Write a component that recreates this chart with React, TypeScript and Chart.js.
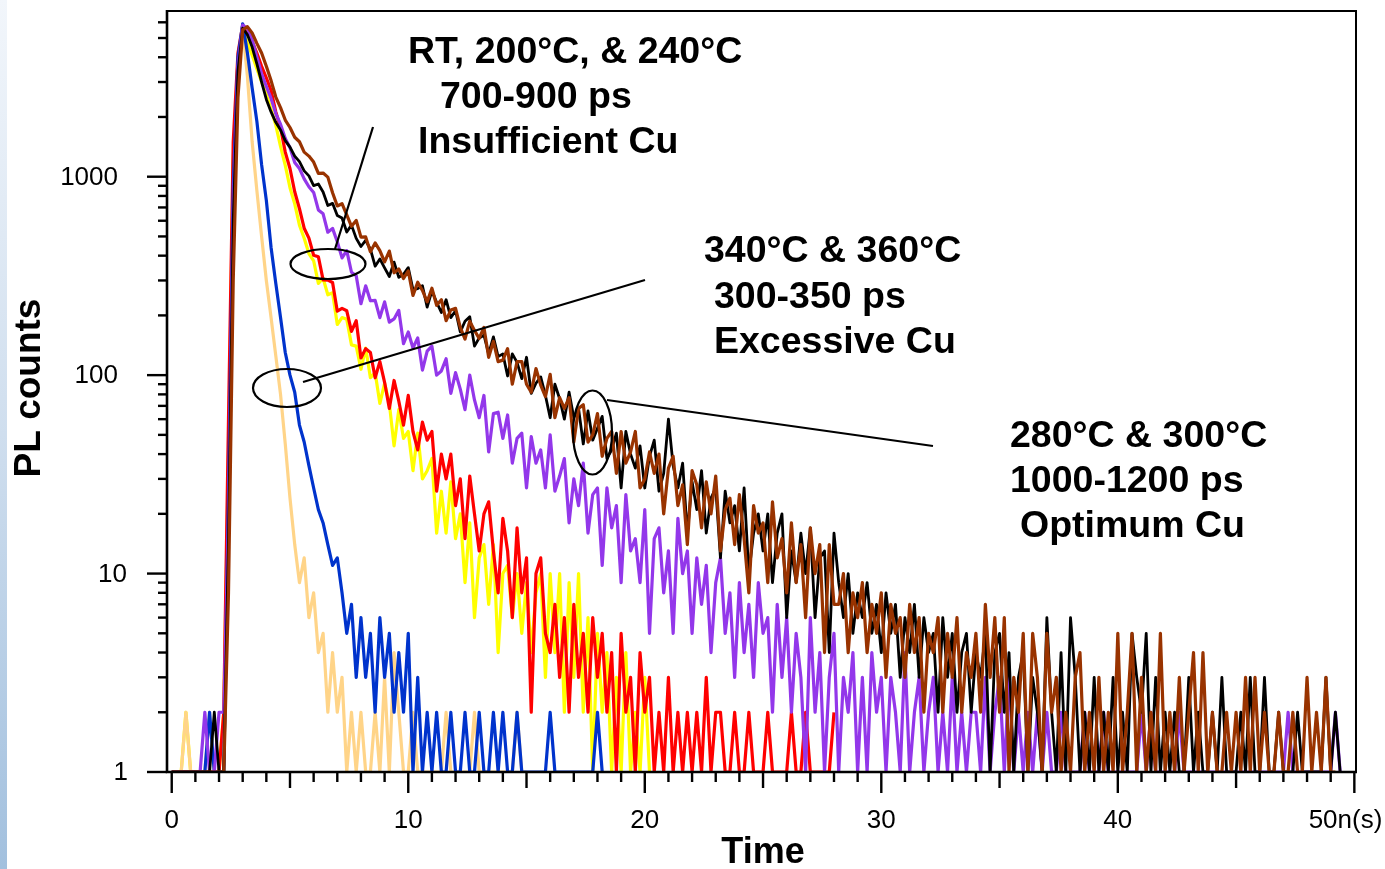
import React, { useEffect, useRef } from "react";
import { Chart, registerables } from "chart.js";

Chart.register(...registerables);

// time bins (ns) of the photoluminescence decay histograms
const TIME_STEP_NS = 0.2;
const X_MIN = -0.2;
const X_MAX = 50.07;
const Y_MIN = 1;
const Y_MAX = 6840;

// 280°C sample (black)
const blackCounts = [
  1, 1, 1, 1, 1, 1, 1, 1, 1, 2,
  1, 1, 15, 600, 3400, 5600, 5200, 4500, 3700, 3000,
  2450, 2120, 1880, 1720, 1520, 1410, 1270, 1190, 1070, 1010,
  902, 919, 837, 716, 734, 637, 619, 526, 570, 489,
  445, 478, 431, 354, 385, 347, 314, 371, 311, 322,
  348, 270, 273, 282, 220, 266, 233, 207, 240, 195,
  211, 165, 187, 197, 140, 154, 159, 128, 156, 124,
  128, 99, 128, 116, 96, 123, 81, 91, 98, 79,
  61, 90, 76, 60, 82, 61, 68, 45, 66, 47,
  54, 62, 38, 42, 51, 27, 52, 40, 34, 44,
  27, 39, 47, 26, 32, 60, 35, 27, 36, 16,
  29, 21, 33, 16, 24, 27, 12, 26, 18, 22,
  13, 27, 10, 16, 20, 13, 20, 9, 16, 20,
  6, 13, 9, 16, 10, 17, 6, 12, 13, 4,
  16, 9, 6, 10, 5, 8, 6, 9, 5, 7,
  4, 8, 5, 7, 3, 6, 4, 7, 3, 6,
  4, 5, 2, 6, 3, 5, 2, 4, 5, 2,
  4, 3, 5, 1, 4, 5, 2, 4, 1, 3,
  4, 1, 3, 2, 1, 6, 2, 1, 4, 1,
  6, 3, 1, 2, 1, 3, 1, 2, 1, 3,
  1, 2, 1, 5, 3, 2, 5, 1, 3, 1,
  2, 1, 2, 1, 1, 3, 1, 2, 1, 1,
  2, 1, 3, 1, 1, 1, 2, 1, 3, 1,
  1, 3, 1, 1, 2, 1, 1, 1, 2, 1,
  1, 1, 1, 1, 3, 1, 2, 1,
];

// 300°C sample (brown)
const brownCounts = [
  1, 1, 1, 1, 1, 1, 1, 1, 1, 1,
  1, 1, 8, 300, 2500, 5500, 5700, 5300, 4700, 4200,
  3600, 3050, 2520, 2230, 1930, 1770, 1580, 1500, 1330, 1270,
  1185, 1040, 1043, 995, 830, 712, 731, 643, 562, 602,
  496, 497, 418, 464, 424, 372, 422, 328, 343, 307,
  335, 252, 294, 267, 234, 274, 225, 240, 188, 213,
  217, 174, 152, 187, 168, 153, 174, 123, 148, 117,
  119, 136, 90, 117, 117, 90, 82, 108, 89, 78,
  101, 61, 77, 68, 77, 46, 68, 71, 46, 50,
  64, 39, 48, 52, 32, 52, 36, 41, 52, 27,
  30, 41, 32, 40, 20, 34, 39, 22, 28, 14,
  33, 28, 17, 29, 20, 31, 13, 21, 24, 14,
  25, 15, 8, 22, 16, 18, 9, 23, 12, 15,
  8, 18, 9, 14, 6, 17, 10, 14, 4, 14,
  7, 7, 10, 4, 8, 6, 9, 4, 7, 5,
  8, 3, 7, 5, 6, 3, 7, 4, 6, 2,
  5, 4, 6, 2, 5, 3, 6, 2, 4, 3,
  5, 2, 7, 3, 6, 2, 6, 1, 3, 2,
  5, 1, 5, 3, 1, 5, 2, 3, 1, 2,
  1, 3, 4, 1, 2, 1, 3, 1, 2, 1,
  5, 1, 2, 5, 1, 3, 1, 2, 1, 5,
  1, 2, 1, 3, 1, 2, 4, 1, 4, 1,
  2, 1, 1, 2, 1, 2, 1, 3, 1, 3,
  1, 2, 1, 1, 2, 1, 1, 2, 1, 1,
  3, 1, 2, 1, 3, 1, 1,
];

// 340°C sample (purple)
const purpleCounts = [
  1, 1, 1, 1, 1, 1, 1, 2, 1, 1,
  2, 2, 20, 700, 3600, 5800, 5600, 4900, 4000, 3300,
  2850, 2480, 2080, 1840, 1560, 1400, 1180, 1100, 975, 890,
  833, 680, 650, 525, 549, 470, 390, 424, 330, 317,
  229, 282, 237, 238, 195, 234, 185, 192, 212, 144,
  165, 137, 154, 106, 132, 140, 100, 105, 121, 81,
  103, 85, 67, 100, 75, 61, 79, 41, 64, 65,
  48, 63, 36, 48, 51, 27, 49, 36, 42, 27,
  50, 26, 31, 38, 18, 30, 22, 36, 16, 25,
  27, 11, 27, 17, 22, 9, 25, 13, 15, 9,
  21, 5, 15, 17, 8, 13, 5, 19, 10, 13,
  5, 12, 7, 11, 4, 9, 12, 5, 8, 3,
  9, 4, 7, 3, 9, 5, 6, 2, 7, 3,
  6, 2, 5, 3, 1, 6, 2, 4, 1, 3,
  5, 1, 3, 2, 4, 1, 3, 1, 4, 2,
  3, 1, 3, 2, 1, 4, 1, 2, 3, 1,
  2, 3, 1, 2, 1, 3, 1, 2, 1, 2,
  2, 1, 3, 1, 2, 3, 1, 3, 1, 2,
  1, 2, 1, 2, 1, 2, 1, 1, 2, 1,
  1, 1, 1, 2, 1, 1, 1, 2, 1, 1,
  1, 1, 1, 1, 1, 2, 1, 2, 1, 1,
  1, 1, 1, 2, 1, 1, 1, 1, 1, 1,
  1, 1, 1, 1, 1, 1, 1, 1, 1, 1,
  1, 1, 1, 1, 1, 1, 2, 1, 1, 1,
  1, 1, 1, 1, 1, 1, 2, 1,
];

// 360°C sample (blue)
const blueCounts = [
  1, 1, 1, 1, 1, 1, 1, 1, 2, 1,
  1, 1, 25, 900, 4000, 5900, 4200, 2800, 1900, 1150,
  760, 440, 290, 195, 130, 100, 82, 56, 46, 35,
  27, 21, 18, 14, 11, 12, 8, 5, 7, 3,
  6, 3, 5, 2, 6, 3, 5, 2, 4, 2,
  5, 1, 3, 1, 2, 1, 2, 1, 1, 2,
  1, 1, 2, 1, 1, 2, 1, 1, 2, 1,
  2, 1, 1, 2, 1, 1, 1, 1, 1, 1,
  2, 1, 1, 1, 1, 1, 1, 1, 1, 1,
  2, 1,
];

// RT sample (light orange)
const orangeCounts = [
  1, 1, 1, 2, 1, 1, 1, 1, 2, 1,
  1, 1, 15, 500, 3000, 5600, 3200, 1500, 850, 500,
  300, 195, 125, 80, 45, 24, 14, 9, 12, 6,
  8, 4, 5, 2, 4, 2, 3, 1, 2, 1,
  2, 1, 1, 2, 1, 3, 1, 4, 2, 1,
  1, 2, 1, 1, 1, 1, 1, 1, 2, 1,
  1, 1, 1, 1, 2, 1, 1, 1, 1, 1,
  1, 1, 1, 2, 1, 1,
];

// 200°C sample (red)
const redCounts = [
  1, 1, 1, 1, 1, 1, 1, 1, 1, 1,
  1, 2, 60, 1500, 4200, 5800, 5200, 4800, 4200, 3600,
  3150, 2720, 2120, 1770, 1330, 1100, 840, 690, 550, 490,
  402, 395, 302, 301, 293, 210, 217, 211, 166, 188,
  122, 136, 130, 97, 117, 92, 68, 94, 74, 56,
  79, 52, 42, 58, 47, 52, 26, 40, 30, 40,
  22, 30, 15, 31, 20, 13, 20, 23, 13, 8,
  19, 13, 6, 17, 8, 12, 2, 10, 12, 5,
  4, 7, 3, 6, 2, 7, 3, 5, 2, 6,
  3, 5, 2, 4, 1, 5, 2, 3, 1, 4,
  2, 3, 1, 2, 1, 3, 1, 2, 1, 2,
  1, 2, 1, 3, 1, 2, 2, 1, 1, 2,
  1, 1, 2, 1, 1, 1, 2, 1, 1, 1,
  1, 2, 1, 1, 2, 1, 1, 1, 1, 1,
  2,
];

// 240°C sample (yellow)
const yellowCounts = [
  1, 1, 1, 2, 1, 1, 1, 1, 1, 1,
  1, 2, 40, 1200, 3800, 5600, 4700, 4100, 3500, 3000,
  2600, 2180, 1820, 1420, 1140, 880, 730, 570, 490, 410,
  377, 290, 308, 254, 260, 180, 195, 191, 142, 140,
  107, 137, 97, 103, 72, 91, 72, 44, 67, 48,
  52, 33, 51, 30, 33, 38, 16, 26, 16, 29,
  15, 20, 9, 18, 6, 12, 14, 7, 14, 4,
  10, 11, 6, 10, 5, 9, 4, 8, 10, 3,
  10, 4, 10, 2, 9, 3, 10, 2, 6, 1,
  5, 2, 4, 1, 3, 1, 4, 1, 2, 1,
  3, 1,
];

const xMajorTickValues = [0, 10, 20, 30, 40, 50];
const xTickLabels = ["0", "10", "20", "30", "40", "50n(s)"];
const yMajorTickValues = [1, 10, 100, 1000];
const yTickLabels = ["1", "10", "100", "1000"];

const xAxisTitle = "Time";
const yAxisTitle = "PL counts";

const annotationGroups = [
  { lines: ["RT, 200°C, & 240°C", "700-900 ps", "Insufficient Cu"] },
  { lines: ["340°C & 360°C", "300-350 ps", "Excessive Cu"] },
  { lines: ["280°C & 300°C", "1000-1200 ps", "Optimum Cu"] },
];

function toPoints(values: number[]) {
  return values.map((v, i) => ({ x: Math.round(i * TIME_STEP_NS * 100) / 100, y: v }));
}

const FONT = "'Liberation Sans', Arial, Helvetica, sans-serif";

const decorPlugin = {
  id: "decor",
  beforeDraw(chart: any) {
    const ctx = chart.ctx as CanvasRenderingContext2D;
    ctx.save();
    ctx.fillStyle = "#ffffff";
    ctx.fillRect(0, 0, chart.width, chart.height);
    const g = ctx.createLinearGradient(0, 0, 0, chart.height);
    g.addColorStop(0, "#f2f6fb");
    g.addColorStop(0.5, "#cfdeee");
    g.addColorStop(1, "#a2c0de");
    ctx.fillStyle = g;
    ctx.fillRect(0, 0, 7, chart.height);
    ctx.restore();
  },
  afterDatasetsDraw(chart: any) {
    const ctx = chart.ctx as CanvasRenderingContext2D;
    const a = chart.chartArea;
    const xs = chart.scales.x;
    const ys = chart.scales.y;
    ctx.save();
    ctx.strokeStyle = "#000";
    ctx.lineCap = "butt";

    // frame
    ctx.lineWidth = 2;
    ctx.beginPath();
    ctx.moveTo(a.left, a.top);
    ctx.lineTo(a.right, a.top);
    ctx.lineTo(a.right, a.bottom);
    ctx.stroke();
    ctx.lineWidth = 2.6;
    ctx.beginPath();
    ctx.moveTo(a.left, a.top - 1);
    ctx.lineTo(a.left, a.bottom);
    ctx.lineTo(a.right + 1, a.bottom);
    ctx.stroke();

    // x ticks
    ctx.lineWidth = 2.4;
    for (let v = 0; v <= 50; v++) {
      const px = xs.getPixelForValue(v);
      const len = v % 10 === 0 ? 21 : v % 5 === 0 ? 16 : 10;
      ctx.beginPath();
      ctx.moveTo(px, a.bottom);
      ctx.lineTo(px, a.bottom + len);
      ctx.stroke();
    }
    // y ticks
    for (const d of yMajorTickValues) {
      for (let k = 1; k <= 9; k++) {
        const v = d * k;
        if (v > Y_MAX) break;
        const py = ys.getPixelForValue(v);
        const len = k === 1 ? 20 : 9;
        ctx.beginPath();
        ctx.moveTo(a.left, py);
        ctx.lineTo(a.left - len, py);
        ctx.stroke();
      }
    }

    // tick labels
    ctx.fillStyle = "#000";
    ctx.font = `26px ${FONT}`;
    ctx.textBaseline = "middle";
    xMajorTickValues.forEach((v, i) => {
      const px = xs.getPixelForValue(v);
      if (i === xMajorTickValues.length - 1) {
        ctx.textAlign = "right";
        ctx.fillText(xTickLabels[i], px + 28, a.bottom + 49);
      } else {
        ctx.textAlign = "center";
        ctx.fillText(xTickLabels[i], px, a.bottom + 49);
      }
    });
    ctx.textAlign = "right";
    const yLabelRight = [128, 127, 118, 118];
    yMajorTickValues.forEach((v, i) => {
      const py = ys.getPixelForValue(v);
      ctx.fillText(yTickLabels[i], yLabelRight[i], py + 1);
    });

    // axis titles
    ctx.font = `bold 36px ${FONT}`;
    ctx.textAlign = "center";
    ctx.fillText(xAxisTitle, 763, 853);
    ctx.save();
    ctx.translate(30, 388);
    ctx.rotate(-Math.PI / 2);
    ctx.font = `bold 37px ${FONT}`;
    ctx.fillText(yAxisTitle, 0, 0);
    ctx.restore();

    // annotation texts
    const textPos = [
      [[408, 53], [440, 98], [418, 143]],
      [[704, 252], [714, 298], [714, 343]],
      [[1010, 437], [1010, 482], [1020, 527]],
    ];
    ctx.font = `bold 37.5px ${FONT}`;
    ctx.textAlign = "left";
    annotationGroups.forEach((grp, gi) => {
      grp.lines.forEach((t, li) => {
        const [tx, ty] = textPos[gi][li];
        ctx.fillText(t, tx, ty);
      });
    });

    // ellipses and leader lines
    ctx.lineWidth = 2.2;
    const ell = (cx: number, cy: number, rx: number, ry: number) => {
      ctx.beginPath();
      ctx.ellipse(cx, cy, rx, ry, 0, 0, Math.PI * 2);
      ctx.stroke();
    };
    const seg = (x1: number, y1: number, x2: number, y2: number) => {
      ctx.beginPath();
      ctx.moveTo(x1, y1);
      ctx.lineTo(x2, y2);
      ctx.stroke();
    };
    ell(328, 264, 37.5, 15);
    seg(335, 249, 373, 127);
    ell(287, 388, 34, 19);
    seg(303, 382, 645, 280);
    ell(592.5, 432.5, 19.5, 42);
    seg(607, 400, 933, 446);

    ctx.restore();
  },
};

export default function App() {
  const canvasRef = useRef<HTMLCanvasElement | null>(null);

  useEffect(() => {
    const canvas = canvasRef.current;
    if (!canvas) return;
    const mk = (label: string, values: number[], color: string, width: number) => ({
      label,
      data: toPoints(values),
      borderColor: color,
      backgroundColor: color,
      borderWidth: width,
      pointRadius: 0,
      fill: false,
      tension: 0,
      borderJoinStyle: "round" as const,
    });
    const chart = new Chart(canvas, {
      type: "line",
      data: {
        datasets: [
          mk("300°C", brownCounts, "#993300", 3.2),
          mk("280°C", blackCounts, "#000000", 2.8),
          mk("340°C", purpleCounts, "#9337EA", 3.2),
          mk("360°C", blueCounts, "#0033CC", 3.2),
          mk("RT", orangeCounts, "#FFD488", 3.2),
          mk("200°C", redCounts, "#FF0000", 3.2),
          mk("240°C", yellowCounts, "#FFFF00", 3.2),
        ],
      },
      options: {
        animation: false,
        responsive: false,
        devicePixelRatio: 1,
        events: [],
        layout: { padding: { left: 167, right: 29, top: 11, bottom: 97 } },
        plugins: {
          legend: { display: false },
          tooltip: { enabled: false },
          title: { display: false },
        },
        scales: {
          x: { type: "linear", min: X_MIN, max: X_MAX, display: false },
          y: { type: "logarithmic", min: Y_MIN, max: Y_MAX, display: false },
        },
      },
      plugins: [decorPlugin],
    });
    return () => chart.destroy();
  }, []);

  return (
    <div style={{ position: "absolute", left: 0, top: 0, width: 1385, height: 869 }}>
      <canvas ref={canvasRef} width={1385} height={869} style={{ display: "block" }} />
    </div>
  );
}
